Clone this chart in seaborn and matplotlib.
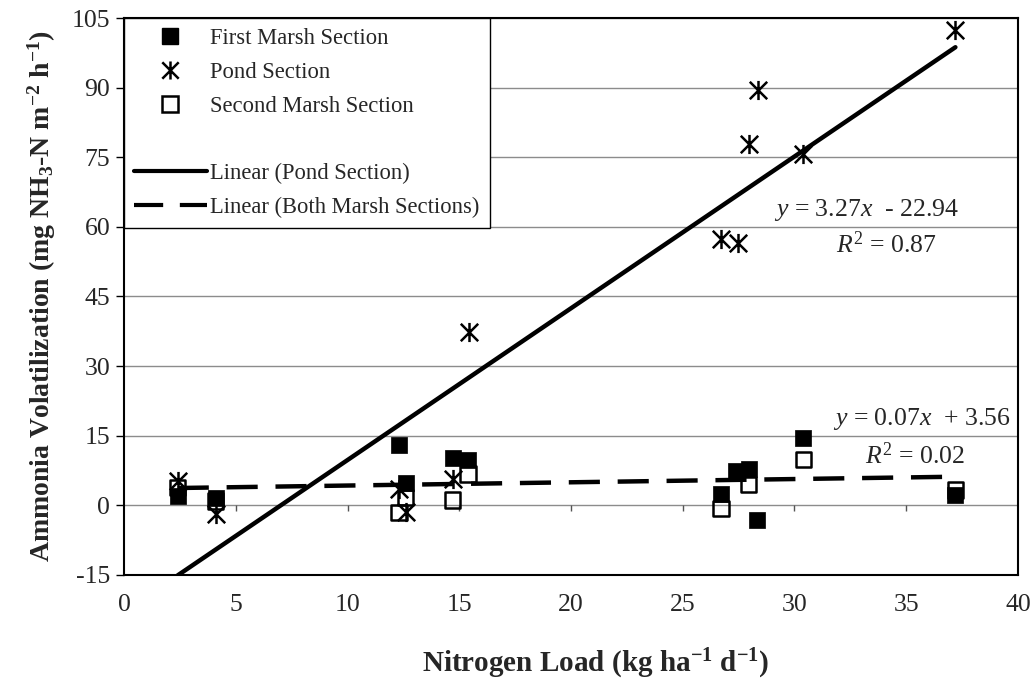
import numpy as np
import pandas as pd
import matplotlib
matplotlib.use('Agg')
import matplotlib.pyplot as plt
from matplotlib.lines import Line2D
from matplotlib.path import Path
import seaborn as sns

# nitrogen load (x) and ammonia volatilization (y)
first_x = [2.4, 4.1, 12.3, 12.6, 14.7, 15.4, 26.7, 27.4, 27.95, 28.3, 30.4, 37.2]
first_y = [2.0, 1.6, 13.1, 4.7, 10.3, 9.7, 2.4, 7.5, 7.8, -3.2, 14.6, 2.3]

pond_x = [2.4, 4.1, 12.3, 12.6, 14.7, 15.45, 26.7, 27.45, 27.95, 28.35, 30.4, 37.2]
pond_y = [5.3, -1.9, 3.5, -1.5, 5.6, 37.3, 57.3, 56.5, 77.8, 89.4, 75.7, 102.5]

second_x = [2.4, 4.1, 12.3, 12.6, 14.7, 15.4, 26.7, 27.95, 30.4, 37.2]
second_y = [3.8, 0.9, -1.5, 1.7, 1.1, 6.7, -0.7, 4.5, 9.9, 3.3]

# trend line coefficients as printed on the chart
pond_slope, pond_icpt = 3.27, -22.94
marsh_slope, marsh_icpt = 0.07, 3.56
trend_x = [2.4, 37.2]

x_ticks = [0, 5, 10, 15, 20, 25, 30, 35, 40]
y_ticks = [-15, 0, 15, 30, 45, 60, 75, 90, 105]

sns.set_theme(style='white')
plt.rcParams['font.family'] = ['Liberation Serif', 'DejaVu Serif']
plt.rcParams['axes.unicode_minus'] = False
plt.rcParams['mathtext.fontset'] = 'custom'
plt.rcParams['mathtext.rm'] = 'Liberation Serif'
plt.rcParams['mathtext.it'] = 'Liberation Serif:italic'
plt.rcParams['mathtext.bf'] = 'Liberation Serif:bold'

fig = plt.figure(figsize=(10.34, 6.82), dpi=100)
ax = fig.add_axes([0.12, 0.157, 0.8645, 0.8166])

# excel style star: an x with a vertical bar through it
asterisk = Path([(-1, -1), (1, 1), (-1, 1), (1, -1), (0, -1.1), (0, 1.1)],
                [Path.MOVETO, Path.LINETO, Path.MOVETO, Path.LINETO,
                 Path.MOVETO, Path.LINETO])

sns.scatterplot(x=first_x, y=first_y, marker='s', color='black', s=135,
                edgecolor='black', linewidth=0.5, ax=ax, zorder=4)
sns.scatterplot(x=pond_x, y=pond_y, marker=asterisk, color='black', s=190,
                edgecolor='black', linewidth=1.8, ax=ax, zorder=5)
sns.scatterplot(x=second_x, y=second_y, marker='s', s=125, facecolor='none',
                edgecolor='black', linewidth=1.8, ax=ax, zorder=6)

tx = np.array(trend_x)
sns.lineplot(x=tx, y=pond_slope * tx + pond_icpt, color='black', linewidth=3.2,
             ax=ax, zorder=3)
sns.lineplot(x=tx, y=marsh_slope * tx + marsh_icpt, color='black', linewidth=3.2,
             dashes=False, ax=ax, zorder=3)
ax.lines[-1].set_dashes((7, 4))

ax.set_xlim(0, 40)
ax.set_ylim(-15, 105)
ax.set_yticks(y_ticks)
ax.set_xticks(x_ticks)
ax.yaxis.grid(True, color='#8c8c8c', linewidth=1)
ax.set_axisbelow(True)
for s in ax.spines.values():
    s.set_color('black')
    s.set_linewidth(1.5)

ax.tick_params(axis='y', direction='out', length=6, width=1, color='black',
               left=True, labelsize=18.5, pad=4)
ax.tick_params(axis='x', length=0, labelsize=18.5, pad=14)
# small x ticks hanging from the zero line
ax.vlines(x_ticks[1:-1], -1.3, 0, color='#555555', linewidth=1)

ax.set_xlabel(r'Nitrogen Load (kg ha$^\mathbf{-1}$ d$^\mathbf{-1}$)',
              fontsize=21, fontweight='bold')
ax.xaxis.set_label_coords(0.528, -0.13)
ax.set_ylabel(r'Ammonia Volatilization (mg NH$_\mathbf{3}$-N m$^\mathbf{-2}$ h$^\mathbf{-1}$)',
              fontsize=20, fontweight='bold', labelpad=10)

ax.text(33.2, 63.6, r'$y$ = 3.27$x$  - 22.94', fontsize=18.5, ha='center', va='center')
ax.text(34.1, 56.2, r'$R^{2}$ = 0.87', fontsize=18.5, ha='center', va='center')
ax.text(35.7, 18.7, r'$y$ = 0.07$x$  + 3.56', fontsize=18.5, ha='center', va='center')
ax.text(35.4, 10.8, r'$R^{2}$ = 0.02', fontsize=18.5, ha='center', va='center')

handles = [
    Line2D([], [], marker='s', color='black', linestyle='none', markersize=11),
    Line2D([], [], marker=asterisk, color='black', linestyle='none', markersize=13,
           markeredgewidth=1.8),
    Line2D([], [], marker='s', markerfacecolor='none', markeredgecolor='black',
           linestyle='none', markersize=11, markeredgewidth=1.8),
    Line2D([], [], linestyle='none'),
    Line2D([], [], color='black', linewidth=3),
    Line2D([], [], color='black', linewidth=3, dashes=(7, 4)),
]
labels = ['First Marsh Section', 'Pond Section', 'Second Marsh Section', ' ',
          'Linear (Pond Section)', 'Linear (Both Marsh Sections)']
leg = ax.legend(handles, labels, loc='upper left', bbox_to_anchor=(0, 1),
                fontsize=16.3, frameon=True, fancybox=False, framealpha=1,
                edgecolor='black', handlelength=3.2, handletextpad=0.15,
                labelspacing=0.56, borderaxespad=0, borderpad=0.45)
leg.get_frame().set_linewidth(1)

fig.savefig('out.png', dpi=100)
